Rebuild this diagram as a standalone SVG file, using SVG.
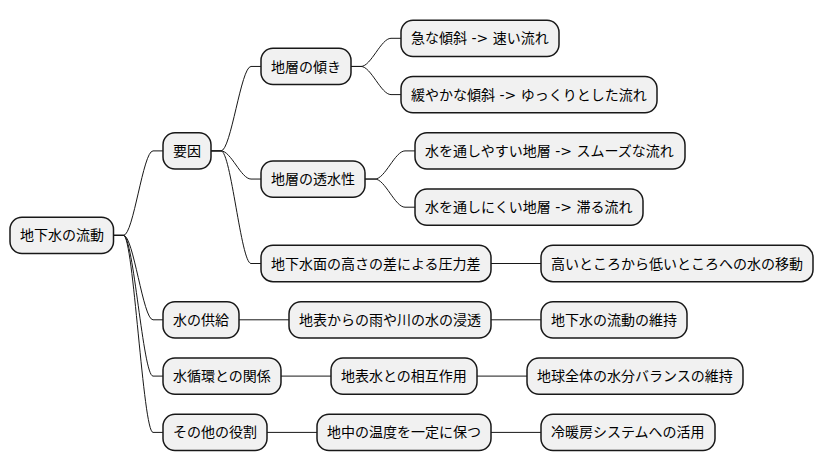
<svg xmlns="http://www.w3.org/2000/svg" width="824" height="471" viewBox="0 0 824 471">
<style>
.n rect{fill:#F1F1F1;stroke:#181818;stroke-width:1.5}
.n text{font-family:"DejaVu Sans","Noto Sans CJK JP",sans-serif;font-size:14px;fill:#000}
.c path{fill:none;stroke:#181818;stroke-width:1}
</style>
<rect width="824" height="471" fill="#FFFFFF"/>
<g class="c" id="connectors">
<path d="M113.5,235.35 H123.5 C133.5,235.35 143,150.9 153,150.9 H163"/>
<path d="M113.5,235.35 H123.5 C133.5,235.35 143,319.8 153,319.8 H163"/>
<path d="M113.5,235.35 H123.5 C133.5,235.35 143,376.1 153,376.1 H163"/>
<path d="M113.5,235.35 H123.5 C133.5,235.35 143,432.4 153,432.4 H163"/>
<path d="M211,150.9 H221 C231,150.9 241,66.45 251,66.45 H261"/>
<path d="M211,150.9 H221 C231,150.9 241,179.05 251,179.05 H261"/>
<path d="M211,150.9 H221 C231,150.9 241,263.5 251,263.5 H261"/>
<path d="M351,66.45 H361 C371,66.45 381,38.3 391,38.3 H401"/>
<path d="M351,66.45 H361 C371,66.45 381,94.6 391,94.6 H401"/>
<path d="M365,179.05 H375 C385,179.05 395,150.9 405,150.9 H415"/>
<path d="M365,179.05 H375 C385,179.05 395,207.2 405,207.2 H415"/>
<path d="M491,263.5 H541"/>
<path d="M239,319.8 H289"/>
<path d="M491,319.8 H541"/>
<path d="M281,376.1 H331"/>
<path d="M477,376.1 H527"/>
<path d="M267,432.4 H317"/>
<path d="M491,432.4 H541"/>
</g>
<g class="n" id="root"><rect x="10" y="217.2" width="103.5" height="36.3" rx="12"/><text x="20" y="240.4">地下水の流動</text></g>
<g class="n" id="youin"><rect x="163" y="132.75" width="48" height="36.3" rx="12"/><text x="173" y="155.9">要因</text></g>
<g class="n" id="katamuki"><rect x="261" y="48.3" width="90" height="36.3" rx="12"/><text x="271" y="71.5">地層の傾き</text></g>
<g class="n" id="kyuu"><rect x="401" y="20.15" width="158" height="36.3" rx="12"/><text x="411" y="43.3">急な傾斜 -&gt; 速い流れ</text></g>
<g class="n" id="yuruyaka"><rect x="401" y="76.45" width="256" height="36.3" rx="12"/><text x="411" y="99.6">緩やかな傾斜 -&gt; ゆっくりとした流れ</text></g>
<g class="n" id="tousui"><rect x="261" y="160.9" width="104" height="36.3" rx="12"/><text x="271" y="184.1">地層の透水性</text></g>
<g class="n" id="tooshiyasui"><rect x="415" y="132.75" width="270" height="36.3" rx="12"/><text x="425" y="155.9">水を通しやすい地層 -&gt; スムーズな流れ</text></g>
<g class="n" id="tooshinikui"><rect x="415" y="189.05" width="228" height="36.3" rx="12"/><text x="425" y="212.2">水を通しにくい地層 -&gt; 滞る流れ</text></g>
<g class="n" id="chikasuimen"><rect x="261" y="245.35" width="230" height="36.3" rx="12"/><text x="271" y="268.5">地下水面の高さの差による圧力差</text></g>
<g class="n" id="takai"><rect x="541" y="245.35" width="272" height="36.3" rx="12"/><text x="551" y="268.5">高いところから低いところへの水の移動</text></g>
<g class="n" id="kyoukyuu"><rect x="163" y="301.65" width="76" height="36.3" rx="12"/><text x="173" y="324.8">水の供給</text></g>
<g class="n" id="shintou"><rect x="289" y="301.65" width="202" height="36.3" rx="12"/><text x="299" y="324.8">地表からの雨や川の水の浸透</text></g>
<g class="n" id="iji"><rect x="541" y="301.65" width="146" height="36.3" rx="12"/><text x="551" y="324.8">地下水の流動の維持</text></g>
<g class="n" id="junkan"><rect x="163" y="357.95" width="118" height="36.3" rx="12"/><text x="173" y="381.1">水循環との関係</text></g>
<g class="n" id="sougo"><rect x="331" y="357.95" width="146" height="36.3" rx="12"/><text x="341" y="381.1">地表水との相互作用</text></g>
<g class="n" id="balance"><rect x="527" y="357.95" width="216" height="36.3" rx="12"/><text x="537" y="381.1">地球全体の水分バランスの維持</text></g>
<g class="n" id="sonota"><rect x="163" y="414.25" width="104" height="36.3" rx="12"/><text x="173" y="437.4">その他の役割</text></g>
<g class="n" id="ondo"><rect x="317" y="414.25" width="174" height="36.3" rx="12"/><text x="327" y="437.4">地中の温度を一定に保つ</text></g>
<g class="n" id="reidanbou"><rect x="541" y="414.25" width="174" height="36.3" rx="12"/><text x="551" y="437.4">冷暖房システムへの活用</text></g>
</svg>
